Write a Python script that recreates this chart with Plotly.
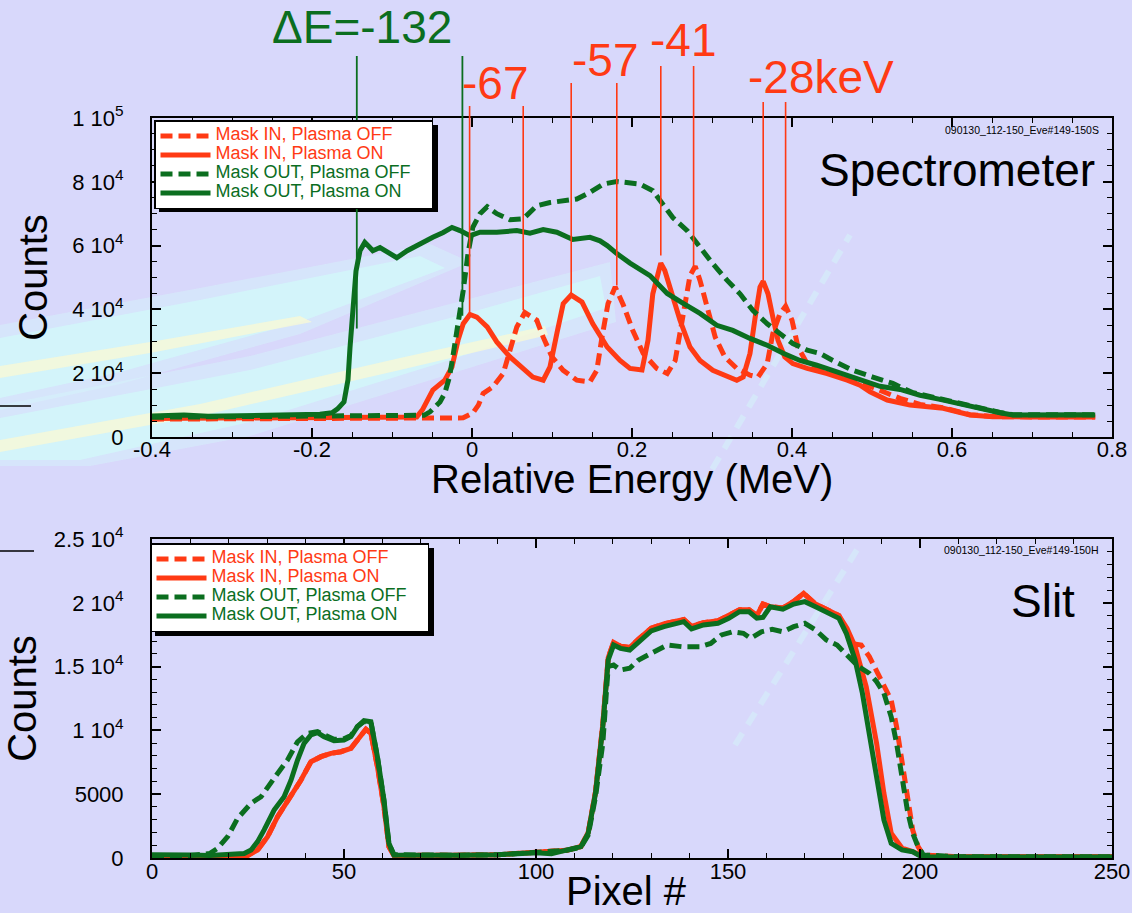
import plotly.graph_objects as go

FONT = "Liberation Sans"
RED = "#ff3a14"
GREEN = "#0b6e1f"
BG = "#d8d8fb"

# ---------------- Spectrometer: counts vs relative energy (MeV) ----------------
energy_in_off = [-0.40, -0.20, -0.10, -0.011, 0.001, 0.008, 0.014, 0.026, 0.039, 0.0475, 0.056, 0.066,
                 0.075, 0.081, 0.089, 0.10, 0.114, 0.131, 0.1475, 0.156, 0.1625, 0.17, 0.179, 0.189,
                 0.201, 0.214, 0.231, 0.244, 0.254, 0.26, 0.266, 0.2725, 0.279, 0.285, 0.294, 0.304,
                 0.316, 0.331, 0.3475, 0.3575, 0.369, 0.376, 0.385, 0.392, 0.40, 0.4075, 0.419, 0.444,
                 0.469, 0.494, 0.519, 0.535, 0.56, 0.589, 0.6225, 0.651, 0.70, 0.779]
counts_in_off = [5600, 5700, 5800, 6000, 7500, 10000, 13700, 15700, 19900, 27200, 34500, 39000,
                 37800, 36600, 31300, 25100, 20900, 17800, 17300, 20900, 31300, 41800, 47000, 41500,
                 33400, 26200, 21500, 19900, 24000, 32400, 41800, 50600, 53500, 49100, 40700, 31300,
                 25100, 21500, 19400, 18800, 23000, 32400, 38650, 41000, 36600, 28200, 23000, 20900,
                 18300, 16250, 13700, 12100, 10200, 9200, 7000, 6400, 6300, 6300]

energy_in_on = [-0.40, -0.30, -0.20, -0.10, -0.069, -0.062, -0.056, -0.049, -0.034, -0.025, -0.0175,
                -0.011, -0.0025, 0.006, 0.019, 0.031, 0.0475, 0.064, 0.076, 0.089, 0.0975, 0.106,
                0.114, 0.124, 0.1375, 0.151, 0.169, 0.185, 0.1975, 0.2125, 0.22, 0.226, 0.236, 0.241,
                0.25, 0.26, 0.2725, 0.285, 0.301, 0.319, 0.331, 0.339, 0.3475, 0.354, 0.36, 0.364,
                0.37, 0.376, 0.3825, 0.391, 0.401, 0.419, 0.444, 0.469, 0.485, 0.4975, 0.519, 0.5475,
                0.589, 0.6225, 0.651, 0.70, 0.779]
counts_in_on = [5800, 5900, 6000, 6100, 6300, 8500, 11600, 14700, 17800, 22000, 30300,
                35500, 38400, 37600, 34500, 29800, 25100, 21500, 18800, 17800, 22000, 32400,
                41800, 44500, 42300, 35500, 28200, 24000, 21500, 21000, 30300, 44900, 54500, 52200,
                44900, 36600, 28200, 24000, 20900, 18800, 17800, 18800, 26200, 37600, 47000, 48800,
                44900, 37600, 30300, 25100, 23000, 21500, 19900, 17800, 16250, 14200, 11600, 10000,
                9000, 6900, 6350, 6300, 6300]

energy_out_off = [-0.40, -0.30, -0.20, -0.10, -0.06, -0.0525, -0.04, -0.034, -0.028, -0.024, -0.0175,
                  -0.011, -0.005, 0.001, 0.01, 0.019, 0.031, 0.0475, 0.064, 0.081, 0.0975, 0.114,
                  0.131, 0.1475, 0.164, 0.181, 0.195, 0.21, 0.226, 0.2375, 0.251, 0.269, 0.285, 0.301,
                  0.319, 0.335, 0.351, 0.369, 0.385, 0.401, 0.419, 0.435, 0.451, 0.476, 0.501, 0.526,
                  0.55, 0.585, 0.61, 0.635, 0.66, 0.676, 0.72, 0.779]
counts_out_off = [6200, 6300, 6500, 6600, 6800, 7900, 11000, 13700, 19000, 25100, 34500,
                  45900, 57500, 65700, 70000, 72200, 70000, 68100, 68400, 72500, 73500, 74100,
                  74600, 76700, 79300, 80100, 79800, 79300, 77200, 73500, 68800, 64700, 59500, 54300,
                  49100, 44900, 39700, 35500, 32400, 29300, 27200, 26200, 24000, 20900, 18800, 16800,
                  14000, 11900, 10400, 9100, 7700, 7000, 7000, 7000]

energy_out_on = [-0.40, -0.36, -0.33, -0.30, -0.26, -0.22, -0.19, -0.175, -0.168, -0.16, -0.155,
                 -0.1525, -0.149, -0.145, -0.14, -0.134, -0.128, -0.124, -0.115, -0.105, -0.094,
                 -0.081, -0.065, -0.049, -0.036, -0.025, -0.015, -0.0025, 0.01, 0.031, 0.056, 0.0725,
                 0.089, 0.106, 0.126, 0.1475, 0.16, 0.169, 0.181, 0.1975, 0.2225, 0.244, 0.264, 0.285,
                 0.306, 0.326, 0.3475, 0.369, 0.389, 0.41, 0.431, 0.451, 0.4725, 0.494, 0.51, 0.535,
                 0.56, 0.585, 0.61, 0.635, 0.66, 0.676, 0.70, 0.73, 0.76, 0.779]
counts_out_on = [6600, 6900, 6500, 6700, 6800, 6900, 7100, 7600, 8800, 11000, 18000,
                 28000, 42000, 52000, 58400, 61000, 59500, 58400, 59400, 57800, 56200,
                 58400, 60600, 62600, 64100, 65700, 64700, 63100, 64200, 64200, 64700, 63900,
                 65000, 64200, 61900, 62600, 61500, 60000, 57500, 54500, 50600, 45000, 41900, 38750,
                 35000, 33400, 30900, 28750, 26250, 24000, 22500, 20900, 18800, 17300, 15900, 14900,
                 13100, 11800, 10300, 9000, 7600, 6900, 7000, 6900, 7000, 6900]

# Peak positions without plasma (MeV) and the measured energy shifts with plasma (keV)
peak_energy_off = [-0.012, 0.064, 0.181, 0.277, 0.392]
shift_kev = [-132, -67, -57, -41, -28]
peak_counts_off = [38000, 39700, 47500, 53750, 41900]
peak_counts_on = [34000, 39000, 45000, 56900, 49000]

# ---------------- Slit: counts vs pixel ----------------
pixel_in_off = [0, 5, 10, 20, 24.9, 27.5, 30.1, 32.7, 36.2, 38.8, 41.4, 44, 46.6, 49.2, 51.8, 53.5,
                55.7, 57, 58.7, 60.4, 61.7, 63, 70, 80, 90, 100, 108, 111.7, 113.6, 115.5, 117.4,
                118.8, 120.2, 122, 124.4, 126.7, 130, 133.3, 135, 138.5, 140.5, 143.6, 147.4, 150.2,
                153, 155.5, 157.5, 159.1, 161, 164.3, 167.1, 169.7, 172.8, 175.6, 178.9, 182.1, 184.7,
                186.8, 189.6, 192.5, 193.9, 195.3, 196.7, 198.1, 199.5, 200.9, 210, 250]
counts_slit_in_off = [150, 100, 150, 150, 200, 630, 1670, 3240, 4800, 6110, 7550, 7940, 8200, 8330, 8600, 9250,
                      10090, 9770, 7160, 4020, 890, 200, 180, 220, 260, 400, 600, 900, 2000, 5200, 10500,
                      15700, 16900, 16600, 16500, 17150, 18000, 18350, 18450, 18700, 18150, 18450, 18600, 19000,
                      19450, 19450, 19000, 19900, 19700, 19600, 20100, 20740, 19900, 19500, 19000, 16800, 16690,
                      15780, 14210, 12380, 10290, 7680, 4550, 2190, 890, 235, 100, 100]

pixel_in_on = [0, 5, 10, 20, 24.9, 27.5, 30.1, 32.7, 36.2, 38.8, 41.4, 44, 46.6, 49.2, 51.8, 53.5,
               55.7, 57, 58.7, 60.4, 61.7, 63, 70, 80, 90, 100, 108, 111.7, 113.6, 115.5, 117.4,
               118.8, 120.2, 122, 124.4, 126.7, 130, 133.3, 135, 138.5, 140.5, 143.6, 147.4, 150.2,
               153, 155.5, 157.5, 159.1, 161, 164.3, 167.1, 169.7, 172.8, 175.6, 178.9, 181, 183.1,
               186, 188.7, 190.6, 192.5, 195.3, 198.1, 200.4, 210, 250]
counts_slit_in_on = [150, 100, 150, 150, 200, 630, 1670, 3240, 4800, 6110, 7550, 7940, 8200, 8330, 8600, 9250,
                     10090, 9770, 7160, 4020, 890, 200, 180, 220, 260, 400, 600, 900, 2000, 5200, 10500,
                     15700, 16900, 16600, 16500, 17150, 18000, 18350, 18450, 18700, 18150, 18450, 18600, 19000,
                     19450, 19450, 19000, 19900, 19700, 19600, 20100, 20740, 19900, 19500, 19000, 18000, 16560,
                     13420, 8990, 5070, 1940, 780, 500, 150, 100, 100]

pixel_out_off = [0, 10, 15, 17.1, 19.7, 22.3, 25.8, 28.4, 31.8, 35.3, 37.9, 40.5, 43.1, 45, 47.4, 50,
                 51.8, 53.5, 55.2, 57, 58.7, 60.4, 61.7, 63, 70, 80, 90, 100, 108, 111.7, 113.6, 115.5,
                 117.4, 118.8, 120.2, 122, 124.4, 126.7, 129.8, 134.2, 138, 142.7, 145.5, 148.3, 151.2,
                 154, 155.9, 158.7, 161.5, 164.3, 167.1, 170, 172.8, 175.6, 178.4, 181.2, 184, 186.8,
                 188.7, 190.6, 192.5, 193.9, 195.3, 196.7, 198.1, 199.5, 200.9, 210, 250]
counts_slit_out_off = [200, 200, 350, 760, 1670, 3110, 4290, 4800, 6250, 7680, 9110, 9770, 9900, 9600, 9300, 9350,
                       9600, 10300, 10700, 10650, 7900, 4500, 1100, 250, 200, 220, 250, 400, 600, 850, 1800, 4800,
                       8990, 15000, 15130, 14730, 14870, 15520, 16040, 16690, 16560, 16560, 16820, 17480, 17730,
                       17610, 17220, 17730, 17920, 17730, 18130, 18390, 17870, 17090, 16690, 15780, 15000, 14470,
                       13820, 12910, 11070, 8990, 6370, 3760, 1940, 890, 235, 100, 100]

pixel_out_on = [0, 5, 10, 15, 19.7, 22, 24, 25.8, 27.5, 29.2, 31.8, 34.4, 36.2, 37.9, 39.6, 41.4, 43.1,
                44.8, 47.4, 50, 51.8, 53.5, 55.2, 57, 58.7, 60.4, 61.7, 63, 70, 80, 90, 95, 100, 104, 108,
                111.7, 113.6, 115.5, 117.4, 118.8, 120.2, 122, 124.4, 126.7, 130, 133.3, 135, 138.5,
                140.5, 143.6, 147.4, 150.2, 153, 155.5, 157.5, 159.1, 161, 164.3, 167.1, 170, 172.8,
                175.6, 178.9, 180.8, 183.1, 185, 186.8, 188.7, 190.6, 192.5, 195.3, 198.1, 200.4, 210,
                230, 250]
counts_slit_out_on = [250, 200, 230, 200, 240, 300, 360, 630, 1280, 2200, 3760, 4800, 6100, 7680, 8990, 9640, 9820,
                      9510, 9190, 9250, 9510, 10290, 10760, 10680, 7940, 4550, 1150, 235, 200, 220, 260, 350, 420,
                      330, 630, 890, 1940, 5070, 10290, 15520, 16690, 16430, 16300, 16950, 17800, 18130, 18260,
                      18520, 17950, 18260, 18390, 18780, 19300, 19300, 18800, 18860, 19690, 19500, 19900, 20090,
                      19690, 19300, 18780, 17610, 15520, 12910, 9770, 6370, 2980, 1150, 630, 490, 100, 80, 80, 80]

# Axis ticks
spec_xticks = [-0.4, -0.2, 0, 0.2, 0.4, 0.6, 0.8]
spec_xtext = ["-0.4", "-0.2", "0", "0.2", "0.4", "0.6", "0.8"]
spec_yticks = [0, 20000, 40000, 60000, 80000, 100000]
spec_ytext = ["0", "2 10<sup>4</sup>", "4 10<sup>4</sup>", "6 10<sup>4</sup>", "8 10<sup>4</sup>", "1 10<sup>5</sup>"]
slit_xticks = [0, 50, 100, 150, 200, 250]
slit_xtext = ["0", "50", "100", "150", "200", "250"]
slit_yticks = [0, 5000, 10000, 15000, 20000, 25000]
slit_ytext = ["0", "5000", "1 10<sup>4</sup>", "1.5 10<sup>4</sup>", "2 10<sup>4</sup>", "2.5 10<sup>4</sup>"]

series_labels = ["Mask IN, Plasma OFF", "Mask IN, Plasma ON", "Mask OUT, Plasma OFF", "Mask OUT, Plasma ON"]
series_colors = [RED, RED, GREEN, GREEN]
series_dash = ["12px,6px", "solid", "12px,6px", "solid"]

# Figure geometry (pixels) used for paper-space decorations
W, H = 1132, 913
ML, MR, MT, MB = 152, 20, 118, 55
PW, PH = W - ML - MR, H - MT - MB


def px(x):
    return (x - ML) / PW


def py(y):
    return (H - MB - y) / PH


fig = go.Figure()

spec_sets = [(energy_in_off, counts_in_off), (energy_in_on, counts_in_on),
             (energy_out_off, counts_out_off), (energy_out_on, counts_out_on)]
slit_sets = [(pixel_in_off, counts_slit_in_off), (pixel_in_on, counts_slit_in_on),
             (pixel_out_off, counts_slit_out_off), (pixel_out_on, counts_slit_out_on)]


def legend_name(label, color):
    # trailing non-breaking spaces keep some room before the legend's right border
    return f'<span style="color:{color};font-size:18px">{label}&nbsp;&nbsp;&nbsp;</span>'


for (xs, ys), lab, col, dash in zip(spec_sets, series_labels, series_colors, series_dash):
    fig.add_trace(go.Scatter(x=xs, y=ys, mode="lines", name=legend_name(lab, col),
                             line=dict(color=col, width=5, dash=dash),
                             xaxis="x", yaxis="y", legend="legend"))

for (xs, ys), lab, col, dash in zip(slit_sets, series_labels, series_colors, series_dash):
    fig.add_trace(go.Scatter(x=xs, y=ys, mode="lines", name=legend_name(lab, col),
                             line=dict(color=col, width=5, dash=dash),
                             xaxis="x2", yaxis="y2", legend="legend2"))

shapes = []
annotations = []


# Faint streaks of the camera image behind the plots
def blob(points, color, opacity):
    path = "M" + " L".join(f"{px(x)},{py(y)}" for x, y in points) + " Z"
    shapes.append(dict(type="path", path=path, xref="paper", yref="paper", layer="below",
                       fillcolor=color, opacity=opacity, line=dict(width=0)))


# soft outer glow
blob([(0, 325), (200, 288), (430, 244), (470, 262), (300, 334), (120, 384), (0, 410)], "#d4f6fa", 0.45)
blob([(0, 405), (250, 356), (450, 304), (610, 262), (616, 322), (450, 374), (250, 436), (90, 466),
      (0, 466)], "#d4f6fa", 0.45)
# brighter cores
blob([(0, 338), (200, 300), (420, 256), (445, 268), (300, 322), (120, 372), (0, 398)], "#d2f8fa", 0.8)
blob([(0, 366), (150, 342), (300, 316), (312, 322), (150, 353), (0, 378)], "#f6f8d8", 0.85)
blob([(0, 418), (250, 370), (450, 318), (600, 276), (606, 308), (450, 360), (250, 422), (80, 460),
      (0, 460)], "#d2f8fa", 0.8)
blob([(0, 440), (200, 404), (400, 358), (545, 326), (548, 335), (400, 370), (200, 416), (0, 452)],
     "#f6f8d8", 0.85)
shapes.append(dict(type="line", xref="paper", yref="paper", layer="below",
                   x0=px(700), y0=py(490), x1=px(850), y1=py(235),
                   line=dict(color="#d6f4fa", width=6, dash="14px,10px"), opacity=0.55))
shapes.append(dict(type="line", xref="paper", yref="paper", layer="below",
                   x0=px(735), y0=py(745), x1=px(860), y1=py(545),
                   line=dict(color="#d6f4fa", width=6, dash="14px,10px"), opacity=0.5))

# Short marks at the left edge
shapes.append(dict(type="line", xref="paper", yref="paper", x0=px(0), x1=px(31), y0=py(406), y1=py(406),
                   line=dict(color="black", width=1.5)))
shapes.append(dict(type="line", xref="paper", yref="paper", x0=px(0), x1=px(34), y0=py(551), y1=py(551),
                   line=dict(color="black", width=1.5)))

# Legend drop shadows
shapes.append(dict(type="rect", xref="paper", yref="paper", x0=px(159), x1=px(438), y0=py(212), y1=py(125),
                   fillcolor="black", line=dict(width=0), layer="above"))
shapes.append(dict(type="rect", xref="paper", yref="paper", x0=px(155), x1=px(434), y0=py(636), y1=py(548),
                   fillcolor="black", line=dict(width=0), layer="above"))

# Peak markers: plasma OFF / ON pairs, separated by the labelled shift
line_tops = [56, 106, 83, 66, 102]
label_pos = [(362, 27), (495, 83), (605, 60), (683, 40), (821, 77)]
for i, (e_off, dk, c_off, c_on) in enumerate(zip(peak_energy_off, shift_kev, peak_counts_off, peak_counts_on)):
    e_on = e_off + dk / 1000.0
    col = GREEN if i == 0 else RED
    lw = 1.8 if i == 0 else 1.6
    for e, c in ((e_on, c_on), (e_off, c_off)):
        shapes.append(dict(type="line", xref="x", yref="y", x0=e, x1=e, y0=c, y1=100000,
                           line=dict(color=col, width=lw), layer="above"))
        shapes.append(dict(type="line", xref="x", yref="paper", x0=e, x1=e, y0=1.0, y1=py(line_tops[i]),
                           line=dict(color=col, width=lw), layer="above"))
    if i == 0:
        txt = f"ΔE={dk}"
    elif i == len(shift_kev) - 1:
        txt = f"{dk}keV"
    else:
        txt = f"{dk}"
    lx, ly = label_pos[i]
    annotations.append(dict(text=txt, x=px(lx), y=py(ly), xref="paper", yref="paper",
                            xanchor="center", yanchor="middle", showarrow=False,
                            font=dict(family=FONT, size=46, color=col)))

annotations.append(dict(text="Spectrometer", x=px(1097), y=py(170), xref="paper", yref="paper",
                        xanchor="right", yanchor="middle", showarrow=False,
                        font=dict(family=FONT, size=46, color="black")))
annotations.append(dict(text="Slit", x=px(1077), y=py(601), xref="paper", yref="paper",
                        xanchor="right", yanchor="middle", showarrow=False,
                        font=dict(family=FONT, size=46, color="black")))
annotations.append(dict(text="090130_112-150_Eve#149-150S", x=px(1101), y=py(130), xref="paper", yref="paper",
                        xanchor="right", yanchor="middle", showarrow=False,
                        font=dict(family=FONT, size=10.5, color="black")))
annotations.append(dict(text="090130_112-150_Eve#149-150H", x=px(1101), y=py(550), xref="paper", yref="paper",
                        xanchor="right", yanchor="middle", showarrow=False,
                        font=dict(family=FONT, size=10.5, color="black")))

# Horizontal axis titles
annotations.append(dict(text="Relative Energy (MeV)", x=0.5, y=py(479), xref="paper", yref="paper",
                        xanchor="center", yanchor="middle", showarrow=False,
                        font=dict(family=FONT, size=40, color="black")))
annotations.append(dict(text="Pixel #", x=px(626), y=py(891), xref="paper", yref="paper",
                        xanchor="center", yanchor="middle", showarrow=False,
                        font=dict(family=FONT, size=40, color="black")))


def axis(rng, tickvals, ticktext, minor_dtick, minor_tick0, domain, anchor, title, labelgap):
    ax = dict(range=rng, domain=domain, anchor=anchor, tickmode="array", tickvals=tickvals,
              ticktext=ticktext, showline=True, linecolor="black", linewidth=2, mirror="ticks",
              ticks="inside", ticklen=9, tickwidth=1.5, tickcolor="black", showgrid=False,
              zeroline=False, tickfont=dict(family=FONT, size=22, color="black"),
              ticklabelstandoff=labelgap,
              minor=dict(tickmode="linear", tick0=minor_tick0, dtick=minor_dtick, ticks="inside",
                         ticklen=5, tickwidth=1.2, tickcolor="black", showgrid=False))
    if title:
        ax["title"] = dict(text=title, font=dict(family=FONT, size=40, color="black"), standoff=12)
    return ax


top_dom = [py(437), 1.0]
bot_dom = [0.0, py(539)]

legend_common = dict(xanchor="left", yanchor="top", bgcolor="white", bordercolor="black", borderwidth=1.5,
                     font=dict(family=FONT, size=10), itemwidth=50, tracegroupgap=0, traceorder="normal")

fig.update_layout(
    width=W, height=H,
    margin=dict(l=ML, r=MR, t=MT, b=MB, autoexpand=False),
    paper_bgcolor=BG, plot_bgcolor="rgba(0,0,0,0)",
    font=dict(family=FONT, color="black"),
    xaxis=axis([-0.4, 0.8], spec_xticks, spec_xtext, 0.05, -0.4, [0, 1], "y", None, -8),
    yaxis=axis([0, 100000], spec_yticks, spec_ytext, 5000, 0, top_dom, "x", "Counts", 22),
    xaxis2=axis([0, 250], slit_xticks, slit_xtext, 10, 0, [0, 1], "y2", None, -7),
    yaxis2=axis([0, 25000], slit_yticks, slit_ytext, 1000, 0, bot_dom, "x2", "Counts", 22),
    legend=dict(x=px(154), y=py(120), **legend_common),
    legend2=dict(x=px(150), y=py(543), **legend_common),
    shapes=shapes, annotations=annotations,
)

fig.write_html("out.html")
